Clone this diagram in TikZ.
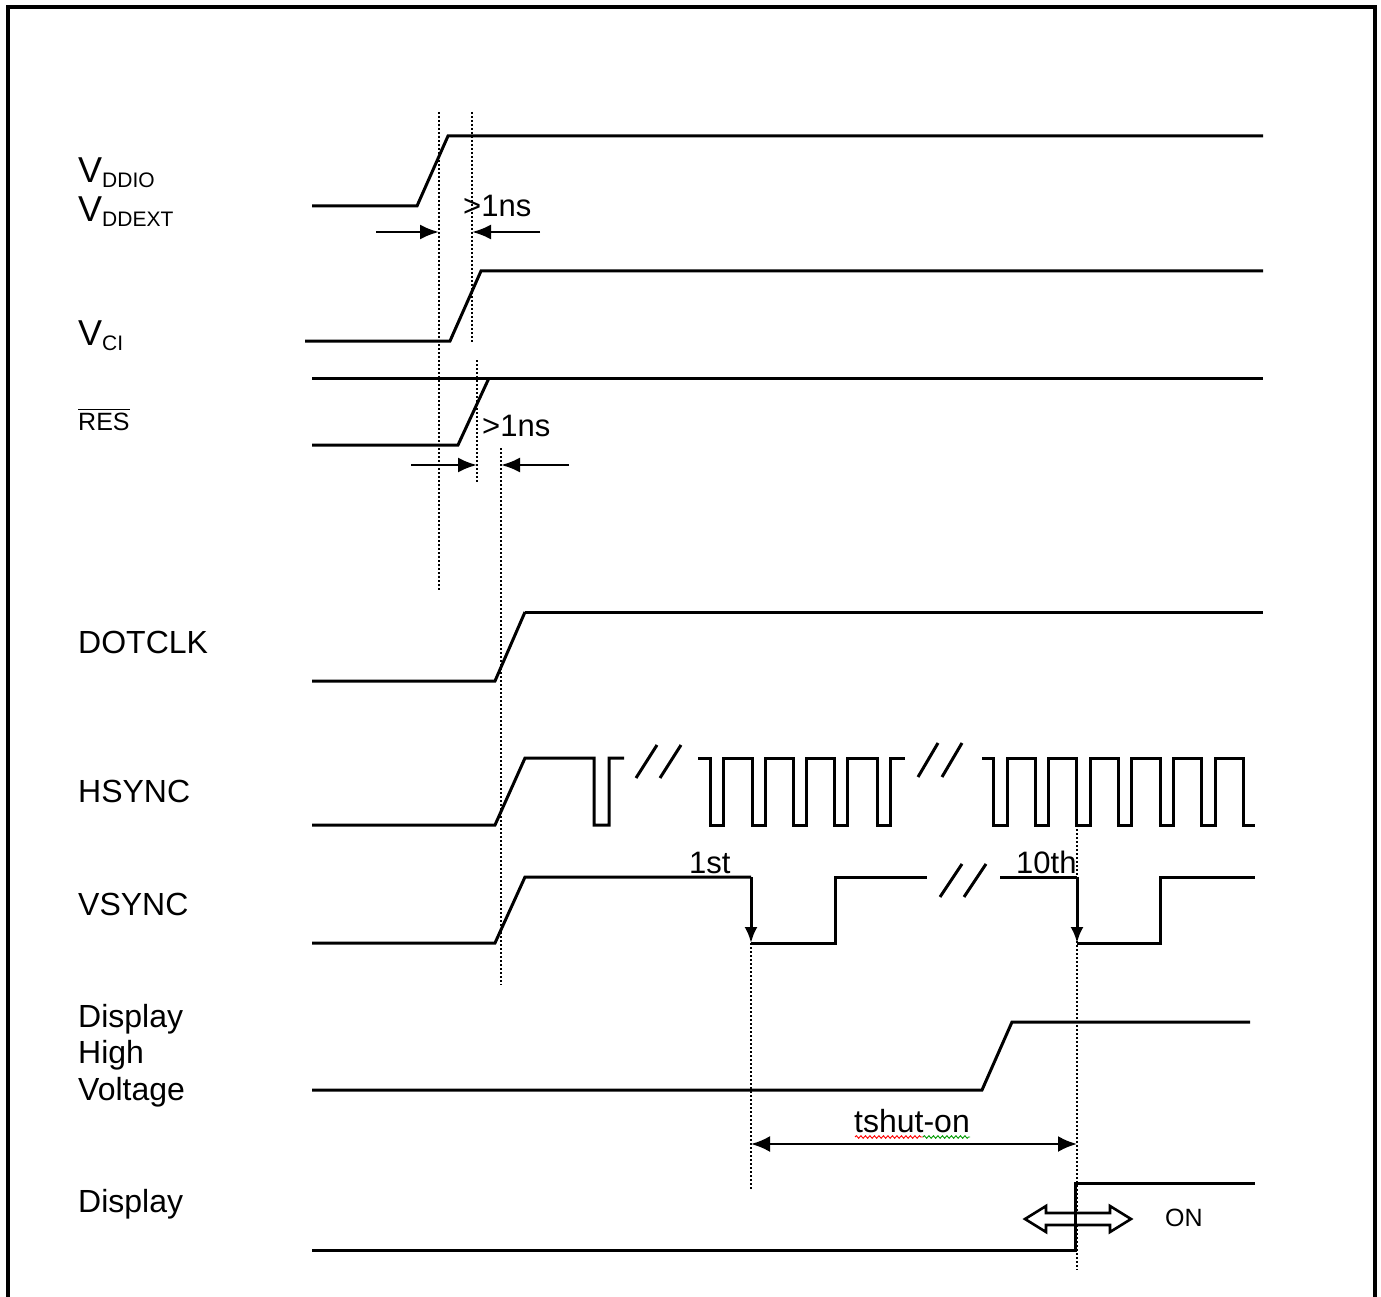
\documentclass[tikz,border=0pt]{standalone}
\usepackage{fontspec}
\setmainfont{Liberation Sans}
\usetikzlibrary{arrows.meta,decorations.pathmorphing}
\tikzset{>={Latex[length=19pt,width=15pt]}}
\tikzset{
  wave/.style={line width=3pt},
  guide/.style={line width=2pt, dash pattern=on 2pt off 2pt},
  gap/.style={line width=2.6pt, ->},
  lbl/.style={anchor=base west, inner sep=0pt, font=\fontsize{32}{38}\selectfont},
}
\newcommand{\sigV}[1]{{\fontsize{36}{40}\selectfont V}\raisebox{-5pt}{\fontsize{21}{24}\selectfont #1}}

\begin{document}
\begin{tikzpicture}[x=1pt,y=-1pt]
\useasboundingbox (0,0) rectangle (1381,1297);
% frame
\draw[line width=3.5pt] (8,1320) -- (8,7) -- (1375,7) -- (1375,1320);

% signal names
\node[lbl] (vddio) at (78,183) {\sigV{DDIO}};
\node[lbl] (vddext) at (78,222) {\sigV{DDEXT}};
\node[lbl] (vci) at (78,345) {\sigV{CI}};
\node[lbl, font=\fontsize{25}{30}\selectfont] (res) at (78,430) {RES};
\draw[line width=1.5pt] ([yshift=3pt]res.north west) -- ([yshift=3pt]res.north east);
\node[lbl] (dotclk) at (78,653) {DOTCLK};
\node[lbl] (hsync) at (78,802) {HSYNC};
\node[lbl] (vsync) at (78,915) {VSYNC};
\node[lbl] (dhv1) at (78,1027) {Display};
\node[lbl] (dhv2) at (78,1063) {High};
\node[lbl] (dhv3) at (78,1100) {Voltage};
\node[lbl] (disp) at (78,1212) {Display};

% guide lines
\draw[guide] (439,112) -- (439,590);
\draw[guide] (472,112) -- (472,342);
\draw[guide] (477,360) -- (477,482);
\draw[guide] (501,448) -- (501,985);
\draw[guide] (751,943) -- (751,1190);
\draw[guide] (1077,825) -- (1077,1270);

% VDDIO / VDDEXT
\draw[wave] (312,206) -- (417,206) -- (448,136) -- (1263,136);
% VCI
\draw[wave] (305,341) -- (450,341) -- (481,271) -- (1263,271);
% RES
\draw[wave] (312,378) -- (1263,378);
\draw[wave] (312,445) -- (458,445) -- (489,378);
% DOTCLK
\draw[wave] (525,612) -- (1263,612);
\draw[wave] (312,681) -- (495,681) -- (525,612);

% first gap
\coordinate (a1) at (376,232);
\coordinate (a2) at (439,232);
\coordinate (a3) at (540,232);
\coordinate (a4) at (472,232);
\draw[gap] (a1) -- (a2);
\draw[gap] (a3) -- (a4);
\node[lbl, font=\fontsize{31}{36}\selectfont] (ns1) at (463,217) {>1ns};
% second gap
\coordinate (b1) at (411,465);
\coordinate (b2) at (477,465);
\coordinate (b3) at (569,465);
\coordinate (b4) at (501,465);
\draw[gap] (b1) -- (b2);
\draw[gap] (b3) -- (b4);
\node[lbl, font=\fontsize{31}{36}\selectfont] (ns2) at (482,436) {>1ns};

% HSYNC
\draw[wave] (312,825) -- (495,825) -- (525,758) -- (594,758) -- (594,825)
  -- (609,825) -- (609,758) -- (624,758);
\draw[wave] (636,778) -- (657,745);
\draw[wave] (660,778) -- (681,745);
\draw[wave] (698,758) -- (710,758) -- (710,825) -- (723,825) -- (723,758)
  -- (752,758) -- (752,825) -- (765,825) -- (765,758)
  -- (793,758) -- (793,825) -- (806,825) -- (806,758)
  -- (834,758) -- (834,825) -- (847,825) -- (847,758)
  -- (877,758) -- (877,825) -- (890,825) -- (890,758) -- (905,758);
\draw[wave] (918,777) -- (938,743);
\draw[wave] (942,777) -- (962,743);
\draw[wave] (982,758) -- (993,758) -- (993,825) -- (1007,825) -- (1007,758)
  -- (1035,758) -- (1035,825) -- (1048,825) -- (1048,758)
  -- (1076,758) -- (1076,825) -- (1090,825) -- (1090,758)
  -- (1118,758) -- (1118,825) -- (1131,825) -- (1131,758)
  -- (1160,758) -- (1160,825) -- (1173,825) -- (1173,758)
  -- (1201,758) -- (1201,825) -- (1215,825) -- (1215,758)
  -- (1243,758) -- (1243,825) -- (1255,825);

% VSYNC
\coordinate (v1a) at (751,877);
\coordinate (v1b) at (751,943);
\coordinate (v10a) at (1077,877);
\coordinate (v10b) at (1077,943);
\draw[wave] (312,943) -- (495,943) -- (525,877) -- (v1a);
\draw[wave, ->, >={Latex[length=16pt,width=13pt]}] (v1a) -- (v1b);
\draw[wave] (v1b) -- (835,943) -- (835,877) -- (927,877);
\draw[wave] (940,897) -- (962,864);
\draw[wave] (964,897) -- (986,864);
\draw[wave] (1000,877) -- (v10a);
\draw[wave, ->, >={Latex[length=16pt,width=13pt]}] (v10a) -- (v10b);
\draw[wave] (v10b) -- (1160,943) -- (1160,877) -- (1255,877);
\node[lbl, font=\fontsize{31}{36}\selectfont] (first) at (689,873) {1st};
\node[lbl, font=\fontsize{31}{36}\selectfont] (tenth) at (1016,873) {10th};

% Display High Voltage
\draw[wave] (312,1090) -- (982,1090) -- (1012,1022) -- (1250,1022);

% tshut-on
\coordinate (t1) at (751,1144);
\coordinate (t2) at (1077,1144);
\draw[line width=2.6pt, <->, >={Latex[length=19pt,width=16pt]}] (t1) -- (t2);
\node[lbl] (tshut) at (854,1132) {tshut-on};
\draw[red, line width=0.9pt, decorate, decoration={snake, amplitude=1.3pt, segment length=4.5pt}]
  (855,1137) -- (923,1137);
\draw[green!60!black, line width=0.9pt, decorate, decoration={snake, amplitude=1.3pt, segment length=4.5pt}]
  (923,1137) -- (970,1137);

% Display
\draw[line width=2.6pt, fill=white] (1025,1219) -- (1046,1206) -- (1046,1213) -- (1110,1213)
  -- (1110,1206) -- (1131,1219) -- (1110,1232) -- (1110,1225) -- (1046,1225)
  -- (1046,1232) -- cycle;
\draw[wave] (312,1250) -- (1075,1250) -- (1075,1183) -- (1255,1183);
\node[lbl, font=\fontsize{25}{30}\selectfont] (on) at (1165,1226) {ON};
\end{tikzpicture}
\end{document}
